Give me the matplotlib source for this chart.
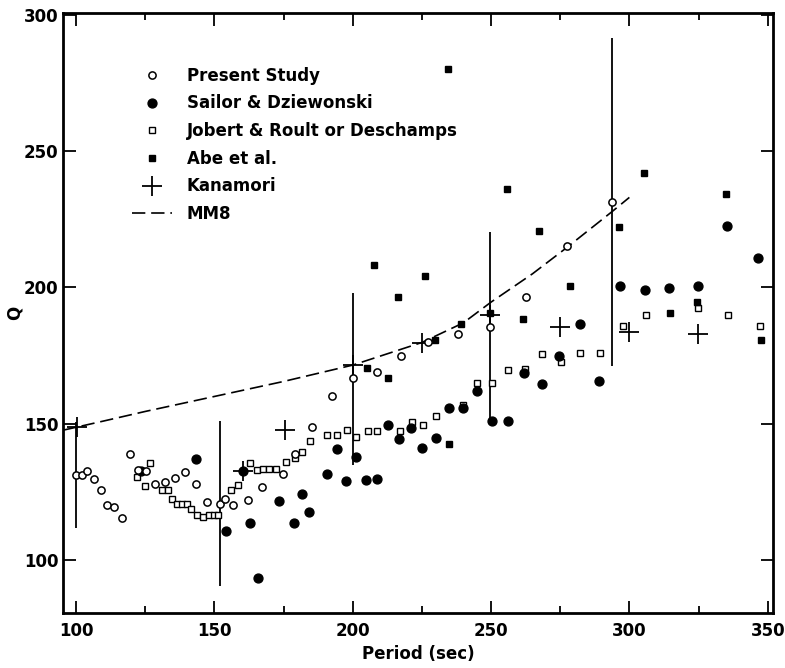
import matplotlib
matplotlib.use("Agg")
import matplotlib.pyplot as plt
from matplotlib.ticker import MultipleLocator

# ----------------------------
# Q values against period
# ----------------------------
# Present study (open circles)
present_period = [100.1, 102.3, 104.1, 106.5, 109.0, 111.3, 113.7, 116.7, 119.4, 122.4,
                  125.4, 128.4, 132.0, 135.6, 139.2, 143.2, 147.4, 152.0, 154.0, 156.7,
                  162.0, 167.1, 174.8, 179.1, 185.2, 192.5, 200.2, 208.6, 217.3, 227.3,
                  238.1, 249.8, 262.8, 277.3, 293.8]
present_q = [131.1, 131.1, 132.6, 129.9, 125.6, 120.1, 119.3, 115.6, 138.8, 132.9,
             132.6, 128.0, 128.6, 130.2, 132.3, 127.8, 121.3, 120.7, 122.5, 120.1,
             121.9, 126.7, 131.4, 139.0, 148.7, 160.0, 166.7, 169.1, 175.0, 179.8,
             182.8, 185.5, 196.6, 215.2, 231.2]

# error bars on some of the present study values
err_period = [100.1, 152.0, 200.2, 249.8, 293.8]
err_low = [111.6, 90.5, 135.0, 151.2, 171.0]
err_high = [150.6, 151.0, 198.0, 220.4, 291.4]

# Sailor & Dziewonski (filled circles)
sailor_period = [123.6, 143.4, 154.1, 160.2, 162.9, 165.8, 173.2, 178.8, 181.6, 184.3,
                 190.6, 194.2, 197.5, 201.3, 204.7, 208.6, 212.9, 216.9, 221.2, 225.1,
                 230.2, 234.7, 239.8, 245.0, 250.4, 256.1, 261.8, 268.5, 274.7, 282.0,
                 289.2, 296.5, 305.5, 314.5, 324.7, 335.2, 346.4]
sailor_q = [132.7, 137.2, 110.7, 132.6, 113.6, 93.6, 121.7, 113.6, 124.4, 117.6,
            131.4, 140.8, 129.0, 137.8, 129.5, 129.7, 149.6, 144.3, 148.5, 141.1,
            144.9, 155.8, 155.8, 161.9, 151.0, 151.0, 168.5, 164.6, 174.9, 186.6,
            165.8, 200.6, 199.1, 199.7, 200.6, 222.5, 210.6]

# Jobert & Roult or Deschamps (open squares)
jobert_period = [122.0, 125.0, 126.6, 131.0, 133.3, 134.7, 136.6, 138.4, 140.1, 141.6,
                 143.8, 145.8, 147.9, 149.7, 151.4, 156.0, 158.5, 162.9, 165.3, 167.7,
                 169.9, 172.1, 176.0, 179.0, 181.8, 184.6, 190.6, 194.2, 197.8, 201.3,
                 205.5, 208.7, 217.2, 221.3, 225.4, 230.2, 239.8, 245.0, 250.4, 256.3,
                 262.4, 268.5, 275.2, 282.0, 289.5, 297.6, 305.9, 324.9, 335.5, 347.2]
jobert_q = [130.5, 127.2, 135.6, 125.6, 125.6, 122.5, 120.5, 120.5, 120.5, 118.6,
            116.7, 115.8, 116.5, 116.5, 116.5, 125.6, 127.7, 135.7, 132.9, 133.5,
            133.5, 133.5, 135.9, 137.5, 139.6, 143.6, 145.7, 145.7, 147.8, 145.3,
            147.5, 147.5, 147.5, 150.5, 149.7, 153.0, 156.8, 164.8, 164.8, 169.8,
            170.0, 175.6, 172.8, 175.8, 176.0, 185.7, 189.9, 192.6, 189.7, 186.0]

# Abe et al. (filled squares)
abe_period = [205.3, 207.7, 212.8, 216.5, 226.0, 229.9, 234.5, 234.9, 239.2, 249.8,
              255.6, 261.6, 267.5, 278.5, 296.4, 305.2, 314.8, 324.4, 334.9, 347.6]
abe_q = [170.3, 208.3, 166.7, 196.3, 204.2, 180.7, 280.0, 142.7, 186.6, 190.6,
         236.2, 188.4, 220.7, 200.6, 222.2, 242.0, 190.6, 194.5, 234.1, 180.7]

# Kanamori (crosses)
kanamori_period = [100.2, 160.2, 175.5, 200.2, 225.1, 249.8, 274.8, 299.8, 324.8]
kanamori_q = [148.7, 132.6, 147.8, 171.6, 179.7, 189.8, 185.6, 183.5, 182.9]

# MM8 model curve
mm8_period = [95.2, 110.0, 125.0, 150.0, 175.0, 200.0, 225.0, 240.0, 250.0, 265.0,
              277.5, 294.0, 300.0]
mm8_q = [147.6, 151.0, 154.5, 160.0, 165.5, 171.5, 179.8, 187.0, 194.6, 205.0,
         214.7, 228.0, 233.0]

# ----------------------------
# Plot
# ----------------------------
plt.rcParams["font.family"] = ["DejaVu Sans"]
plt.rcParams["font.weight"] = "bold"

fig = plt.figure(figsize=(7.85, 6.68), dpi=100)
ax = fig.add_axes([0.080, 0.082, 0.905, 0.898])

ax.vlines(err_period, err_low, err_high, color="black", linewidth=1.3, zorder=2)

mm8_line, = ax.plot(mm8_period, mm8_q, color="black", linewidth=1.2,
                    dashes=(8, 3.5), zorder=2, label="MM8")

ax.plot(kanamori_period, kanamori_q, linestyle="none", marker="+", markersize=14,
        markeredgewidth=1.3, color="black", zorder=3, label="Kanamori")

ax.plot(jobert_period, jobert_q, linestyle="none", marker="s", markersize=4.2,
        markerfacecolor="white", markeredgecolor="black", markeredgewidth=1.0,
        zorder=4, label="Jobert & Roult or Deschamps")

ax.plot(abe_period, abe_q, linestyle="none", marker="s", markersize=4.3,
        color="black", zorder=5, label="Abe et al.")

ax.plot(sailor_period, sailor_q, linestyle="none", marker="o", markersize=6.4,
        color="black", zorder=5, label="Sailor & Dziewonski")

ax.plot(present_period, present_q, linestyle="none", marker="o", markersize=5.2,
        markerfacecolor="white", markeredgecolor="black", markeredgewidth=1.1,
        zorder=6, label="Present Study")

ax.set_xlim(95.2, 352)
ax.set_ylim(80.5, 300.5)

ax.xaxis.set_major_locator(MultipleLocator(50))
ax.xaxis.set_minor_locator(MultipleLocator(25))
ax.yaxis.set_major_locator(MultipleLocator(50))

ax.tick_params(which="both", direction="in", top=True, right=True, width=1.3,
               labelsize=12)
ax.tick_params(axis="x", pad=6)
ax.tick_params(axis="y", pad=3)
ax.tick_params(which="major", length=9)
ax.tick_params(which="minor", length=5)
for lbl in ax.get_xticklabels() + ax.get_yticklabels():
    lbl.set_fontweight("bold")

for side in ax.spines.values():
    side.set_linewidth(2.0)

ax.set_xlabel("Period (sec)", fontsize=12, fontweight="bold", labelpad=4)
ax.set_ylabel("Q", fontsize=12, fontweight="bold", labelpad=0)

handles, labels = ax.get_legend_handles_labels()
order = ["Present Study", "Sailor & Dziewonski", "Jobert & Roult or Deschamps",
         "Abe et al.", "Kanamori", "MM8"]
handles = [handles[labels.index(name)] for name in order]
ax.legend(handles, order, loc="upper left", bbox_to_anchor=(0.085, 0.925),
          frameon=False, handlelength=2.4, handletextpad=0.9,
          labelspacing=0.58, borderpad=0, prop={"weight": "bold", "size": 12})

plt.savefig("out.png", dpi=100)
plt.close()
